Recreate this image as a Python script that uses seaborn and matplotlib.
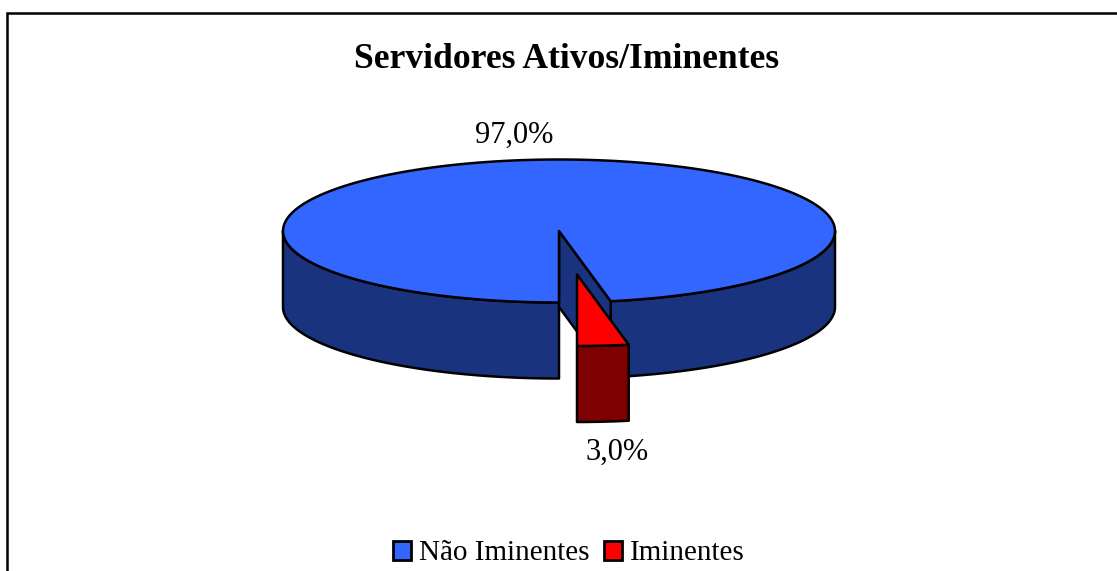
import numpy as np
import matplotlib
matplotlib.use("Agg")
import matplotlib.pyplot as plt
from matplotlib.patches import Patch
import seaborn as sns

# ── Data ──────────────────────────────────────────────────────────
categories = ["Não Iminentes", "Iminentes"]
shares = [97.0, 3.0]
value_labels = ["97,0%", "3,0%"]
title = "Servidores Ativos/Iminentes"

# ── Style ─────────────────────────────────────────────────────────
sns.set_theme(style="white")
plt.rcParams["font.family"] = ["Liberation Serif", "DejaVu Serif"]

top_colors = ["#3366FF", "#FF0000"]
side_colors = ["#1A337F", "#7F0000"]
LW = 1.8

# pie geometry in pixels
CX, CY = 559, 231
RX, RY = 276, 71.5
DEPTH = 76
EXPLODE = (18, 43.5)


def rim(theta, dx=0.0, dy=0.0):
    # theta in degrees, clockwise from the top of the ellipse
    t = np.radians(theta)
    return np.column_stack([CX + dx + RX * np.sin(t), CY + dy - RY * np.cos(t)])


def arc(start, stop):
    return np.linspace(start, stop, 200)


def wall(ax, start, stop, color, dx=0.0, dy=0.0):
    angles = arc(start, stop)
    upper = rim(angles, dx, dy)
    lower = rim(angles, dx, dy + DEPTH)
    ax.fill(*np.vstack([upper, lower[::-1]]).T, fc=color, ec="black", lw=LW,
            joinstyle="round")


def top_face(ax, start, stop, color, dx=0.0, dy=0.0):
    edge = rim(arc(start, stop), dx, dy)
    apex = [[CX + dx, CY + dy]]
    ax.fill(*np.vstack([apex, edge]).T, fc=color, ec="black", lw=LW,
            joinstyle="round")


def main():
    fig = plt.figure(figsize=(11.17, 5.71), dpi=100)
    ax = fig.add_axes([0, 0, 1, 1])
    ax.set_xlim(0, 1117)
    ax.set_ylim(571, 0)
    ax.axis("off")

    # outer chart frame, cut off by the image on the right and bottom
    ax.plot([7, 7, 1117], [571, 12.5, 12.5], color="black", lw=1.8,
            solid_joinstyle="miter")

    # small slice ends at 6 o'clock, big one takes the rest of the circle
    small_start = 180 - shares[1] / sum(shares) * 360

    # big slice: outer walls, inner cut face, then the top
    wall(ax, 180, 270, side_colors[0])
    wall(ax, 90, small_start, side_colors[0])
    tip = np.array([[CX, CY]])
    edge_pt = rim(np.array([small_start]))
    cut = np.vstack([tip, edge_pt, edge_pt + [0, DEPTH], tip + [0, DEPTH]])
    ax.fill(*cut.T, fc=side_colors[0], ec="black", lw=LW, joinstyle="round")
    top_face(ax, 180, 180 + shares[0] / sum(shares) * 360, top_colors[0])

    # exploded slice
    dx, dy = EXPLODE
    wall(ax, small_start, 180, side_colors[1], dx, dy)
    top_face(ax, small_start, 180, top_colors[1], dx, dy)

    ax.text(514.5, 135, value_labels[0], fontsize=22, ha="center", va="center",
            color="black")
    ax.text(617, 452.5, value_labels[1], fontsize=22, ha="center", va="center",
            color="black")
    ax.text(567, 60, title, fontsize=25.6, fontweight="bold", ha="center",
            va="center", color="black")

    handles = [Patch(fc=c, ec="black", lw=2.0, label=n)
               for c, n in zip(top_colors, categories)]
    ax.legend(handles=handles, loc="center", bbox_to_anchor=(569 / 1117, 1 - 553.5 / 571),
              ncol=2, frameon=False, fontsize=21, handlelength=0.62, handleheight=0.62,
              handletextpad=0.28, columnspacing=0.48, borderpad=0, labelcolor="black")

    fig.savefig("out.png", dpi=100)
    plt.close(fig)


if __name__ == "__main__":
    main()
